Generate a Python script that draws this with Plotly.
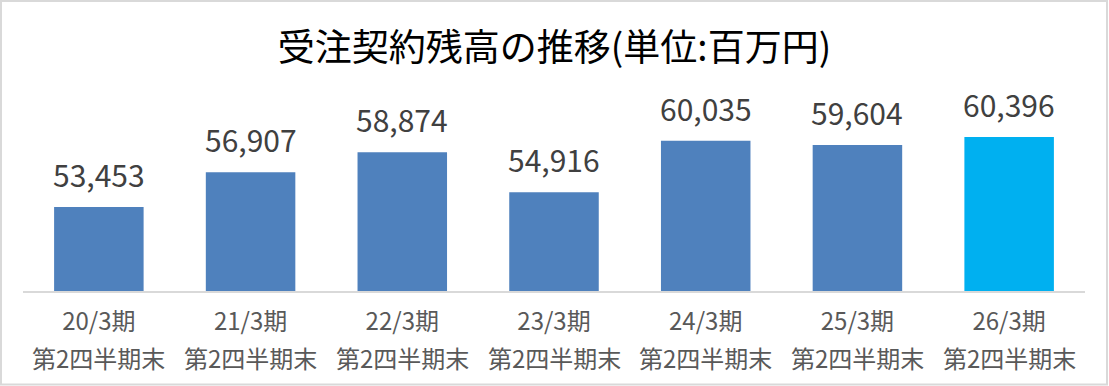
import plotly.graph_objects as go

periods = ["20/3期", "21/3期", "22/3期", "23/3期", "24/3期", "25/3期", "26/3期"]
quarter_label = "第2四半期末"
values = [53453, 56907, 58874, 54916, 60035, 59604, 60396]
colors = ["#4F81BD"] * 6 + ["#00B0F0"]
title_text = "受注契約残高の推移(単位:百万円)"

W, H = 1109, 386
ML, MR, MT, MB = 23, 24, 89, 95
FONT = "Noto Sans CJK JP"

fig = go.Figure()
fig.add_trace(go.Bar(
    x=periods, y=values, marker=dict(color=colors, line=dict(width=0)),
    hoverinfo="skip",
))

for c, v in zip(periods, values):
    fig.add_annotation(x=c, y=v, text=f"{v:,}", showarrow=False,
                       yanchor="bottom", yshift=9,
                       font=dict(family=FONT, size=30, color="#404040"))
    fig.add_annotation(x=c, xref="x", y=0, yref="paper", text=quarter_label,
                       showarrow=False, yanchor="top", yshift=-47,
                       font=dict(family=FONT, size=24, color="#595959"))

pw = W - ML - MR
ph = H - MT - MB
def px_x(p):
    return (p - ML) / pw
def px_y(p):
    return (H - MB - p) / ph

fig.add_shape(type="rect", xref="paper", yref="paper",
              x0=px_x(1), x1=px_x(1107), y0=px_y(384.5), y1=px_y(1),
              line=dict(color="#D9D9D9", width=2), fillcolor="rgba(0,0,0,0)", layer="above")

fig.update_layout(
    width=W, height=H,
    margin=dict(l=ML, r=MR, t=MT, b=MB),
    paper_bgcolor="white", plot_bgcolor="white",
    bargap=0.41,
    showlegend=False,
    title=dict(text=title_text, x=0.5, xanchor="center", xref="container",
               y=1 - 48 / H, yanchor="middle", yref="container",
               font=dict(family=FONT, size=37, color="#000000")),
    xaxis=dict(showline=True, linecolor="#D9D9D9", linewidth=2, ticks="",
               showgrid=False, tickfont=dict(family=FONT, size=24, color="#595959"),
               ticklabelstandoff=8),
    yaxis=dict(range=[45120, 65158], visible=False, showgrid=False, zeroline=False),
)

fig.write_html("out.html")
